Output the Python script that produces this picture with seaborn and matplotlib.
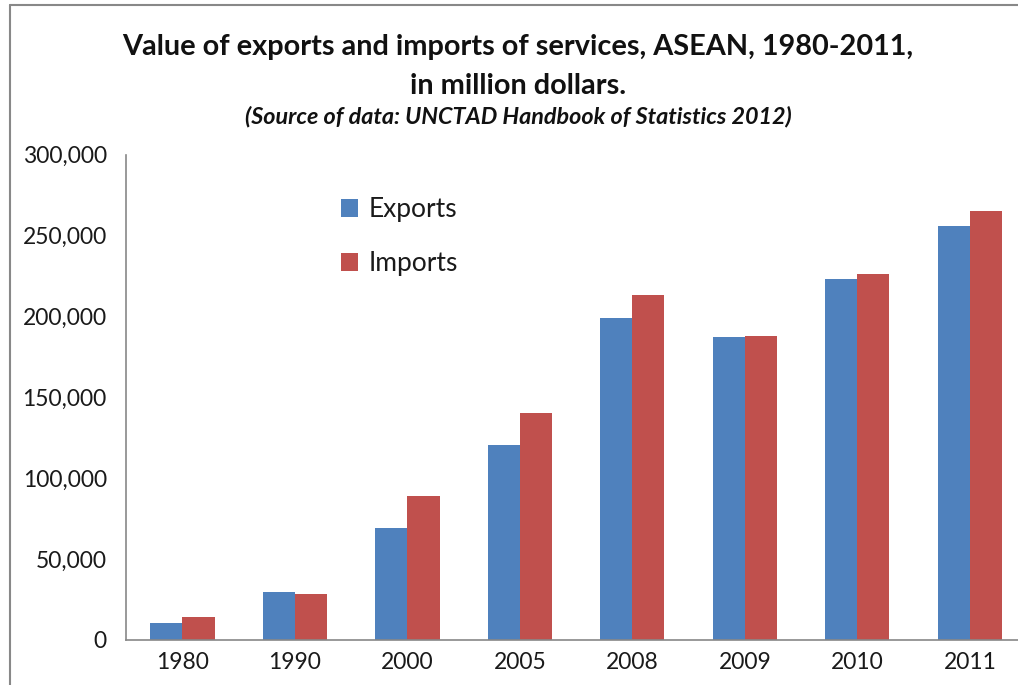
import pandas as pd
import seaborn as sns
import matplotlib.pyplot as plt
from matplotlib.lines import Line2D
from matplotlib.ticker import FuncFormatter

# Data (million dollars)
years = ["1980", "1990", "2000", "2005", "2008", "2009", "2010", "2011"]
exports = [10300, 29500, 69300, 120600, 199000, 187200, 223000, 256200]
imports = [14400, 28600, 89000, 140400, 213000, 188200, 226500, 265100]

df = pd.DataFrame({
    "year": years * 2,
    "value": exports + imports,
    "flow": ["Exports"] * len(years) + ["Imports"] * len(years),
})

sns.set_style("white")
plt.rcParams["font.family"] = ["Lato", "DejaVu Sans"]

fig = plt.figure(figsize=(10.18, 6.85), dpi=100)
ax = fig.add_axes([0.124, 0.066, 0.884, 0.708])

sns.barplot(data=df, x="year", y="value", hue="flow",
            palette={"Exports": "#4F81BD", "Imports": "#C0504D"},
            width=0.57, saturation=1, linewidth=0, ax=ax)

ax.set_ylim(0, 300000)
ax.set_yticks(range(0, 300001, 50000))
ax.yaxis.set_major_formatter(FuncFormatter(lambda v, p: f"{int(v):,}"))
ax.set_xlabel("")
ax.set_ylabel("")
ax.tick_params(axis="both", labelsize=16.5, colors="#1a1a1a", length=0)
ax.tick_params(axis="y", pad=14)
ax.tick_params(axis="x", pad=9)

for side in ["top", "right"]:
    ax.spines[side].set_visible(False)
for side in ["left", "bottom"]:
    ax.spines[side].set_color("#888888")
    ax.spines[side].set_linewidth(1.2)

leg = ax.legend(loc="upper left", bbox_to_anchor=(0.212, 0.962), frameon=False,
                fontsize=19, handlelength=0.65, handleheight=0.65,
                handletextpad=0.4, labelspacing=1.1)
for t in leg.get_texts():
    t.set_color("#1a1a1a")

fig.text(0.509, 0.931, "Value of exports and imports of services, ASEAN, 1980-2011,",
         ha="center", va="center", fontsize=20.8, fontweight="bold", color="#111111")
fig.text(0.509, 0.875, "in million dollars.",
         ha="center", va="center", fontsize=20.8, fontweight="bold", color="#111111")
fig.text(0.509, 0.830, "(Source of data: UNCTAD Handbook of Statistics 2012)",
         ha="center", va="center", fontsize=16.8, fontweight="bold", style="italic",
         color="#111111")

# grey frame of the original chart box
fig.add_artist(Line2D([0.0098, 0.0098], [0, 0.993], color="#888888", lw=1.5))
fig.add_artist(Line2D([0.0098, 1.0], [0.993, 0.993], color="#888888", lw=1.5))

fig.savefig("out.png", dpi=100)
